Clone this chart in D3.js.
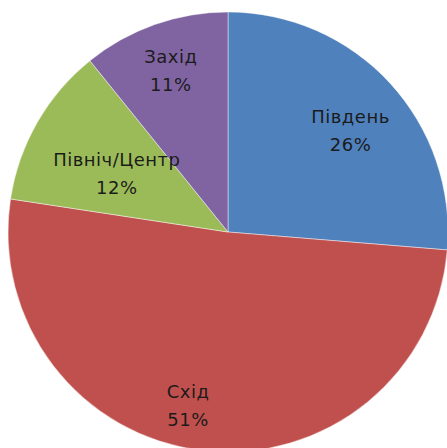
<!DOCTYPE html>
<html lang="uk">
<head>
    <meta charset="UTF-8">
    <title>Pie Chart</title>
    <script src="https://cdn.jsdelivr.net/npm/d3@7"></script>
    <style>
        html, body { margin: 0; padding: 0; background: #fff; overflow: hidden; }
        text { font-family: "DejaVu Sans", sans-serif; fill: #1b1b1b; letter-spacing: 0.5px; }
    </style>
</head>
<body>
<svg id="pie" width="447" height="448"></svg>
<script>
    // data
    let regions = ['Південь', 'Схід', 'Північ/Центр', 'Захід'];
    let shares = [26.3, 51.1, 11.8, 10.8];
    let colours = ['#4F81BD', '#C0504D', '#9BBB59', '#8064A2'];
    // label nudges (Excel pushes some labels around)
    let labelShift = [[-4, 15], [-20, 2], [38, 27], [0, 0]];

    let svg = d3.select('svg#pie');
    let cx = 228, cy = 232, radius = 220;

    let data = regions.map(function(r, i){ return {name: r, value: shares[i], idx: i}; });

    let pie = d3.pie().sort(null).value(function(d){ return d.value; });
    let arc = d3.arc().innerRadius(0).outerRadius(radius);
    let labelArc = d3.arc().innerRadius(172).outerRadius(172);

    let g = svg.append('g').attr('transform', 'translate(' + cx + ',' + cy + ')');

    g.selectAll('path')
        .data(pie(data))
        .enter()
        .append('path')
        .attr('d', arc)
        .attr('fill', function(d){ return colours[d.data.idx]; })
        .attr('stroke', 'rgba(255,255,255,0.45)')
        .attr('stroke-width', 1);

    let labels = g.selectAll('text')
        .data(pie(data))
        .enter()
        .append('text')
        .attr('text-anchor', 'middle')
        .attr('font-size', 18)
        .attr('transform', function(d){
            let c = labelArc.centroid(d);
            let s = labelShift[d.data.idx];
            return 'translate(' + (c[0] + s[0]) + ',' + (c[1] + s[1]) + ')';
        });

    labels.append('tspan')
        .attr('x', 0)
        .attr('y', -7)
        .text(function(d){ return d.data.name; });
    labels.append('tspan')
        .attr('x', 0)
        .attr('y', 21)
        .text(function(d){ return Math.round(d.data.value) + '%'; });
</script>
</body>
</html>
